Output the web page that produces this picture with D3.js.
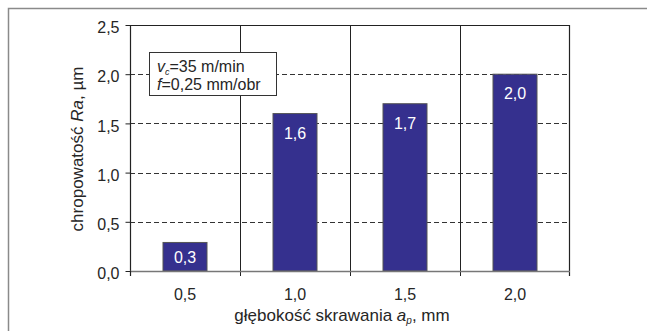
<!DOCTYPE html>
<html><head><meta charset="utf-8">
<script src="https://cdn.jsdelivr.net/npm/d3@7"></script>
<style>body{margin:0;background:#fff}svg{display:block;font-family:"Liberation Sans",Arial,sans-serif}</style>
</head><body>
<svg id="c" width="647" height="331"></svg>
<script>
const categories = ["0,5", "1,0", "1,5", "2,0"];
const values = [0.29, 1.6, 1.7, 2.0];
const valueLabels = ["0,3", "1,6", "1,7", "2,0"];
const yTicks = [0, 0.5, 1.0, 1.5, 2.0, 2.5];

const svg = d3.select("#c");
const m = {left: 130, top: 25, right: 570, bottom: 271};
const x = d3.scaleBand().domain(categories).range([m.left, m.right]).paddingInner(0).paddingOuter(0);
const y = d3.scaleLinear().domain([0, 2.5]).range([m.bottom, m.top]);
const fmt = d => d3.format(".1f")(d).replace(".", ",");
const FONT = "Liberation Sans, Arial, sans-serif";
const TXT = "#262626";

// outer frame
svg.append("path").attr("d", `M8.5,331 V8.5 H647`).attr("fill", "none").attr("stroke", "#8a8a8a").attr("stroke-width", 1.5);

// horizontal dashed grid
svg.append("g").selectAll("line").data(yTicks.filter(d => d > 0 && d < 2.5)).join("line")
  .attr("x1", m.left).attr("x2", m.right)
  .attr("y1", d => Math.round(y(d)) + 0.5).attr("y2", d => Math.round(y(d)) + 0.5)
  .attr("stroke", "#333").attr("stroke-width", 1).attr("stroke-dasharray", "5,3");

// vertical grid lines at category boundaries
const bounds = categories.slice(1).map(c => x(c));
svg.append("g").selectAll("line").data(bounds).join("line")
  .attr("x1", d => d + 0.5).attr("x2", d => d + 0.5)
  .attr("y1", m.top).attr("y2", m.bottom + 5)
  .attr("stroke", "#222").attr("stroke-width", 1);

// bars
const bw = x.bandwidth() * 0.4;
svg.append("g").selectAll("rect").data(values).join("rect")
  .attr("x", (d, i) => x(categories[i]) + (x.bandwidth() - bw) / 2)
  .attr("y", d => y(d))
  .attr("width", bw)
  .attr("height", d => y(0) - y(d))
  .attr("fill", "#35308e").attr("stroke", "#555").attr("stroke-width", 1);

// bar labels
svg.append("g").selectAll("text").data(values).join("text")
  .attr("x", (d, i) => x(categories[i]) + x.bandwidth() / 2)
  .attr("y", d => {
    const h = y(0) - y(d);
    return h < 45 ? (y(d) + y(0)) / 2 + 6 : y(d) + 25;
  })
  .attr("text-anchor", "middle").attr("fill", "#fff").attr("font-size", 16)
  .text((d, i) => valueLabels[i]);

// plot border: top, right dark; left dark
svg.append("path").attr("d", `M${m.left + 0.5},${m.bottom} V${m.top + 0.5} H${m.right - 0.5} V${m.bottom + 5}`)
  .attr("fill", "none").attr("stroke", "#222").attr("stroke-width", 1.2);

// bottom axis line
svg.append("line").attr("x1", m.left).attr("x2", m.right).attr("y1", m.bottom + 0.5).attr("y2", m.bottom + 0.5)
  .attr("stroke", "#777").attr("stroke-width", 1.6);
svg.append("line").attr("x1", m.left + 0.5).attr("x2", m.left + 0.5).attr("y1", m.bottom).attr("y2", m.bottom + 5)
  .attr("stroke", "#222").attr("stroke-width", 1.2);

// y axis ticks
const yAxis = d3.axisLeft(y).tickValues(yTicks).tickFormat(fmt).tickSize(5).tickPadding(6);
const gy = svg.append("g").attr("transform", `translate(${m.left + 0.5},0)`).call(yAxis);
gy.select(".domain").remove();
gy.selectAll(".tick line").attr("stroke", "#222");
gy.selectAll(".tick text").attr("font-size", 16).attr("fill", TXT).attr("font-family", FONT).attr("dy", "0.48em");

// x axis labels
const xAxis = d3.axisBottom(x).tickSize(0).tickPadding(18);
const gx = svg.append("g").attr("transform", `translate(0,${m.bottom})`).call(xAxis);
gx.select(".domain").remove();
gx.selectAll(".tick text").attr("font-size", 16).attr("fill", TXT).attr("font-family", FONT);

// axis titles
const xt = svg.append("text").attr("x", 342).attr("y", 320.5).attr("text-anchor", "middle")
  .attr("font-size", 17).attr("fill", TXT);
xt.append("tspan").text("głębokość skrawania ");
xt.append("tspan").attr("font-style", "italic").text("a");
xt.append("tspan").attr("font-style", "italic").attr("font-size", 10).attr("dy", 3).text("p");
xt.append("tspan").attr("dy", -3).text(", mm");

const yt = svg.append("text").attr("transform", `translate(83,149) rotate(-90)`).attr("text-anchor", "middle")
  .attr("font-size", 17).attr("fill", TXT);
yt.append("tspan").text("chropowatość ");
yt.append("tspan").attr("font-style", "italic").text("Ra");
yt.append("tspan").text(", µm");

// annotation box
svg.append("rect").attr("x", 149.5).attr("y", 52.5).attr("width", 127).attr("height", 43)
  .attr("fill", "#fff").attr("stroke", "#333").attr("stroke-width", 1);
const t1 = svg.append("text").attr("x", 157).attr("y", 71.5).attr("font-size", 16).attr("fill", TXT);
t1.append("tspan").attr("font-style", "italic").text("v");
t1.append("tspan").attr("font-style", "italic").attr("font-size", 9).attr("dy", 3).text("c");
t1.append("tspan").attr("dy", -3).text("=35 m/min");
const t2 = svg.append("text").attr("x", 157).attr("y", 89.5).attr("font-size", 16).attr("fill", TXT);
t2.append("tspan").attr("font-style", "italic").text("f");
t2.append("tspan").text("=0,25 mm/obr");
</script>
</body></html>
